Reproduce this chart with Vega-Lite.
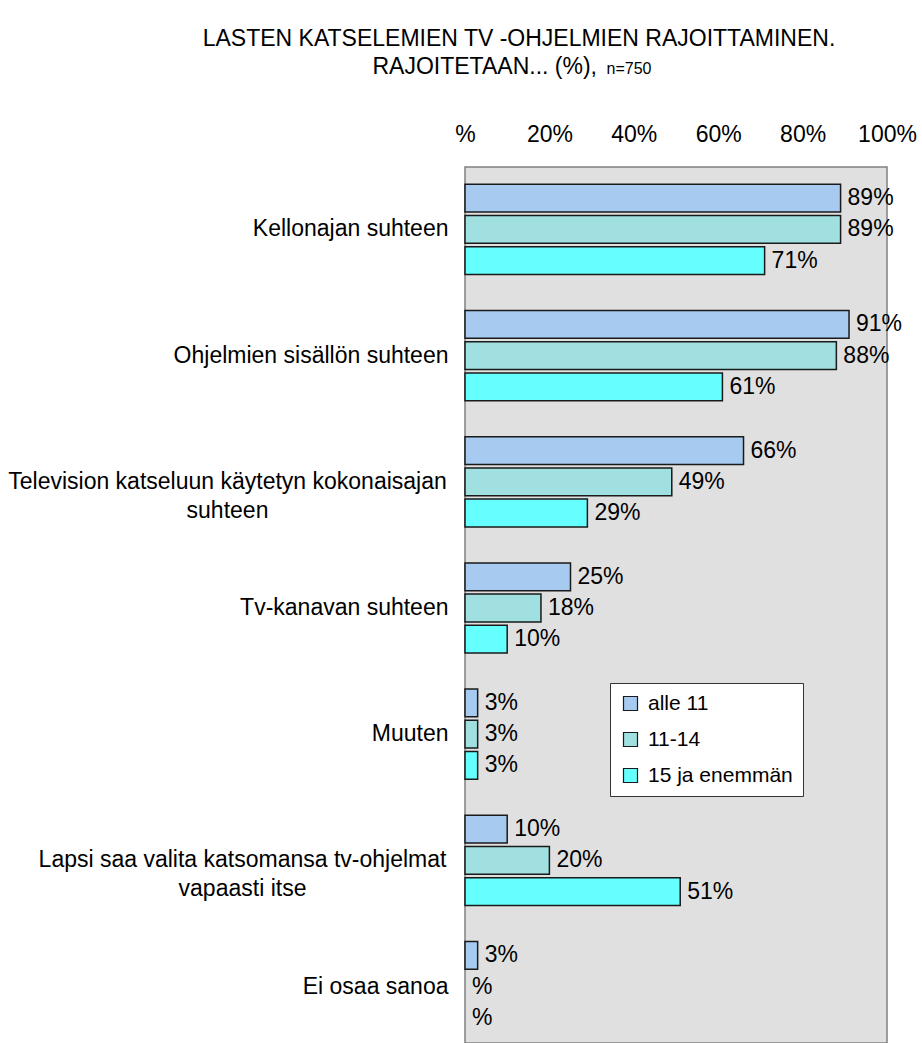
{
  "$schema": "https://vega.github.io/schema/vega-lite/v6.json",
  "width": 422,
  "height": 876,
  "autosize": "none",
  "padding": {"left": 465, "top": 167, "right": 35, "bottom": 0},
  "background": "white",
  "config": {
    "font": "Liberation Sans",
    "view": {"fill": "#E0E0E0", "stroke": "#808080", "strokeWidth": 1.5}
  },
  "title": {
    "text": "LASTEN KATSELEMIEN TV -OHJELMIEN RAJOITTAMINEN.",
    "fontSize": 23,
    "fontWeight": "normal",
    "font": "Liberation Sans",
    "color": "black",
    "anchor": "middle",
    "frame": "group",
    "dx": -157,
    "dy": 25,
    "offset": 6,
    "baseline": "bottom"
  },
  "data": {
    "values": [
      {"category": "Kellonajan suhteen", "group": "alle 11", "value": 89},
      {"category": "Kellonajan suhteen", "group": "11-14", "value": 89},
      {"category": "Kellonajan suhteen", "group": "15 ja enemmän", "value": 71},
      {"category": "Ohjelmien sisällön suhteen", "group": "alle 11", "value": 91},
      {"category": "Ohjelmien sisällön suhteen", "group": "11-14", "value": 88},
      {"category": "Ohjelmien sisällön suhteen", "group": "15 ja enemmän", "value": 61},
      {"category": "Television katseluun käytetyn kokonaisajan suhteen", "group": "alle 11", "value": 66},
      {"category": "Television katseluun käytetyn kokonaisajan suhteen", "group": "11-14", "value": 49},
      {"category": "Television katseluun käytetyn kokonaisajan suhteen", "group": "15 ja enemmän", "value": 29},
      {"category": "Tv-kanavan suhteen", "group": "alle 11", "value": 25},
      {"category": "Tv-kanavan suhteen", "group": "11-14", "value": 18},
      {"category": "Tv-kanavan suhteen", "group": "15 ja enemmän", "value": 10},
      {"category": "Muuten", "group": "alle 11", "value": 3},
      {"category": "Muuten", "group": "11-14", "value": 3},
      {"category": "Muuten", "group": "15 ja enemmän", "value": 3},
      {"category": "Lapsi saa valita katsomansa tv-ohjelmat vapaasti itse", "group": "alle 11", "value": 10},
      {"category": "Lapsi saa valita katsomansa tv-ohjelmat vapaasti itse", "group": "11-14", "value": 20},
      {"category": "Lapsi saa valita katsomansa tv-ohjelmat vapaasti itse", "group": "15 ja enemmän", "value": 51},
      {"category": "Ei osaa sanoa", "group": "alle 11", "value": 3},
      {"category": "Ei osaa sanoa", "group": "11-14", "value": 0},
      {"category": "Ei osaa sanoa", "group": "15 ja enemmän", "value": 0}
    ]
  },
  "transform": [
    {"calculate": "datum.value == 0 ? '%' : datum.value + '%'", "as": "label"}
  ],
  "encoding": {
    "y": {
      "field": "category",
      "type": "nominal",
      "sort": [
        "Kellonajan suhteen",
        "Ohjelmien sisällön suhteen",
        "Television katseluun käytetyn kokonaisajan suhteen",
        "Tv-kanavan suhteen",
        "Muuten",
        "Lapsi saa valita katsomansa tv-ohjelmat vapaasti itse",
        "Ei osaa sanoa"
      ],
      "scale": {"paddingInner": 0.285, "paddingOuter": 0.113, "align": 0.605},
      "axis": {
        "orient": "left",
        "title": "n=750",
        "titleX": 141,
        "titleY": -94,
        "titleAngle": 0,
        "titleAlign": "left",
        "titleBaseline": "alphabetic",
        "titleFontSize": 16,
        "titleFontWeight": "normal",
        "titleColor": "black",
        "labelFontSize": 23,
        "labelColor": "black",
        "labelAlign": {"expr": "(datum.value == 'Television katseluun käytetyn kokonaisajan suhteen' || datum.value == 'Lapsi saa valita katsomansa tv-ohjelmat vapaasti itse') ? 'center' : 'right'"},
        "labelPadding": {"expr": "datum.value == 'Television katseluun käytetyn kokonaisajan suhteen' ? 238 : datum.value == 'Lapsi saa valita katsomansa tv-ohjelmat vapaasti itse' ? 223 : 17"},
        "labelLimit": 600,
        "labelLineHeight": 29,
        "ticks": false,
        "tickSize": 0,
        "domain": false,
        "grid": false,
        "labelExpr": "datum.label == 'Television katseluun käytetyn kokonaisajan suhteen' ? ['Television katseluun käytetyn kokonaisajan', 'suhteen'] : datum.label == 'Lapsi saa valita katsomansa tv-ohjelmat vapaasti itse' ? ['Lapsi saa valita katsomansa tv-ohjelmat', 'vapaasti itse'] : datum.label"
      }
    },
    "yOffset": {
      "field": "group",
      "type": "nominal",
      "sort": ["alle 11", "11-14", "15 ja enemmän"],
      "scale": {"paddingInner": 0.11, "paddingOuter": 0}
    },
    "x": {
      "field": "value",
      "type": "quantitative",
      "scale": {"domain": [0, 100], "nice": false},
      "axis": {
        "orient": "top",
        "values": [0, 20, 40, 60, 80, 100],
        "labelExpr": "datum.value == 0 ? '%' : datum.value + '%'",
        "labelFontSize": 23,
        "labelColor": "black",
        "labelPadding": 21,
        "labelFlush": false,
        "labelOverlap": false,
        "ticks": false,
        "tickSize": 0,
        "domain": false,
        "grid": false,
        "title": "RAJOITETAAN... (%),",
        "titleX": -93,
        "titleY": -94,
        "titleAlign": "left",
        "titleBaseline": "alphabetic",
        "titleFontSize": 23,
        "titleFontWeight": "normal",
        "titleColor": "black"
      }
    }
  },
  "layer": [
    {
      "mark": {"type": "bar", "stroke": "#1a1a1a", "strokeWidth": 1.5},
      "encoding": {
        "strokeOpacity": {"condition": {"test": "datum.value == 0", "value": 0}, "value": 1},
        "color": {
          "field": "group",
          "type": "nominal",
          "scale": {
            "domain": ["alle 11", "11-14", "15 ja enemmän"],
            "range": ["#A6CAF0", "#A0E0E0", "#66FFFF"]
          },
          "legend": {
            "orient": "none",
            "legendX": 145,
            "legendY": 516,
            "title": null,
            "direction": "vertical",
            "symbolType": "square",
            "symbolSize": 196,
            "symbolStrokeColor": "#1a1a1a",
            "symbolStrokeWidth": 1.2,
            "symbolOpacity": 1,
            "labelFontSize": 21,
            "labelColor": "black",
            "labelOffset": 7,
            "labelLimit": 300,
            "fillColor": "white",
            "strokeColor": "#333333",
            "padding": 10,
            "rowPadding": 14
          }
        }
      }
    },
    {
      "mark": {"type": "text", "align": "left", "baseline": "middle", "dx": 7, "fontSize": 23, "color": "black"},
      "encoding": {"text": {"field": "label"}}
    }
  ]
}
